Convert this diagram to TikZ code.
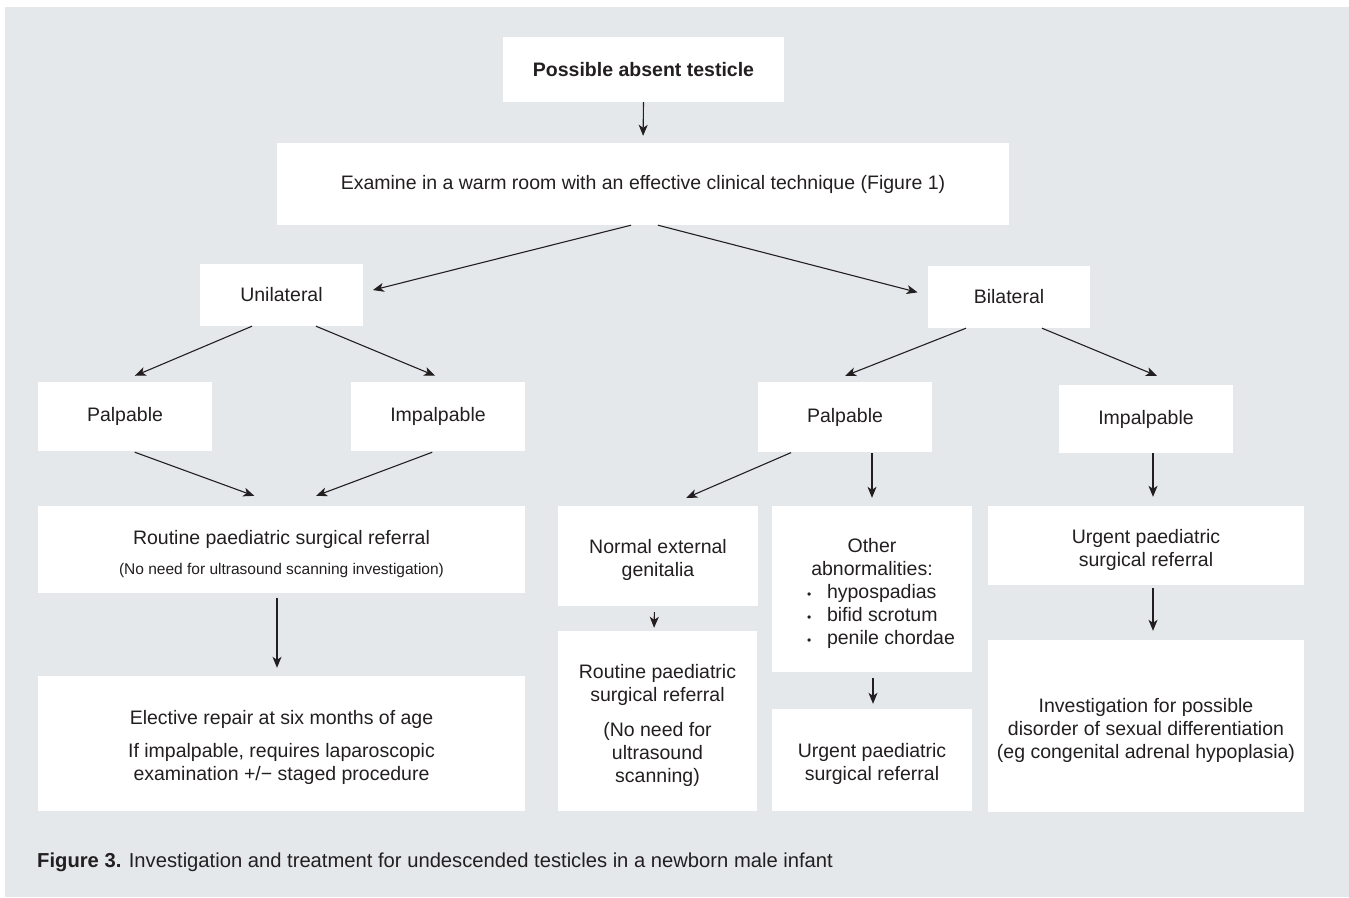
\documentclass[tikz,border=0pt]{standalone}
\usepackage{fontspec}
\setmainfont{Liberation Sans}
\usepackage{tikz}
\usetikzlibrary{arrows.meta}
\definecolor{panelgray}{HTML}{E5E8EB}
\definecolor{inkgray}{HTML}{231F20}
% taller first line, so that a block of several lines sits a little lower
\newcommand{\boxstrut}{\rule{0pt}{23pt}}

\begin{document}
\begin{tikzpicture}[
    x=1pt, y=-1pt,
    flow_box/.style={fill=white, inner sep=0pt, align=center, text=inkgray, font=\fontsize{19.5}{23}\selectfont},
    flow_arrow/.style={draw=inkgray, line width=1.1pt, -{Stealth[length=11pt, width=9pt, inset=3pt]}}
]
\useasboundingbox (0,0) rectangle (1349,897);

% grey panel behind the chart
\fill[panelgray] (5,7) rectangle (1349,897);

% Define node positions
\node[flow_box, minimum width=281pt, minimum height=65pt, font=\fontsize{19.5}{23}\selectfont\bfseries] (top) at (643.5,69.5) {Possible absent testicle};
\node[flow_box, minimum width=732pt, minimum height=82pt] (exam) at (643,184) {Examine in a warm room with an effective clinical technique (Figure 1)};
\node[flow_box, minimum width=163pt, minimum height=62pt] (unil) at (281.5,295) {Unilateral};
\node[flow_box, minimum width=162pt, minimum height=62pt] (bil) at (1009,297) {Bilateral};
\node[flow_box, minimum width=174pt, minimum height=69pt] (palpL) at (125,416.5) {Palpable};
\node[flow_box, minimum width=174pt, minimum height=69pt] (impL) at (438,416.5) {Impalpable};
\node[flow_box, minimum width=174pt, minimum height=70pt] (palpR) at (845,417) {Palpable};
\node[flow_box, minimum width=174pt, minimum height=68pt] (impR) at (1146,419) {Impalpable};
\node[flow_box, minimum width=487pt, minimum height=87pt] (routL) at (281.5,549.5)
    {\boxstrut Routine paediatric surgical referral\\[7pt]{\fontsize{15.5}{19}\selectfont(No need for ultrasound scanning investigation)}};
\node[flow_box, minimum width=200pt, minimum height=100pt] (normal) at (658,556) {\boxstrut Normal external\\genitalia};
\node[flow_box, minimum width=200pt, minimum height=166pt] (other) at (872,589)
    {\boxstrut Other\\abnormalities:\\
     \makebox[162pt][l]{\hspace{16pt}\makebox[20pt][l]{\fontsize{12}{12}\selectfont\textbullet}hypospadias}\\
     \makebox[162pt][l]{\hspace{16pt}\makebox[20pt][l]{\fontsize{12}{12}\selectfont\textbullet}bifid scrotum}\\
     \makebox[162pt][l]{\hspace{16pt}\makebox[20pt][l]{\fontsize{12}{12}\selectfont\textbullet}penile chordae}};
\node[flow_box, minimum width=316pt, minimum height=79pt] (urgentR) at (1146,545.5) {\boxstrut Urgent paediatric\\surgical referral};
\node[flow_box, minimum width=487pt, minimum height=135pt] (elective) at (281.5,743.5)
    {\boxstrut Elective repair at six months of age\\[10pt]If impalpable, requires laparoscopic\\examination +/− staged procedure};
\node[flow_box, minimum width=199pt, minimum height=180pt] (routMid) at (657.5,721)
    {\boxstrut Routine paediatric\\surgical referral\\[12pt](No need for\\ultrasound\\scanning)};
\node[flow_box, minimum width=200pt, minimum height=102pt] (urgentMid) at (872,760) {\boxstrut Urgent paediatric\\surgical referral};
\node[flow_box, minimum width=316pt, minimum height=172pt] (invest) at (1146,726)
    {\boxstrut Investigation for possible\\disorder of sexual differentiation\\(eg congenital adrenal hypoplasia)};

% caption
\node[anchor=base west, inner sep=0pt, text=inkgray, font=\fontsize{20.2}{24}\selectfont] (caption) at (37,867)
    {\textbf{Figure 3.} Investigation and treatment for undescended testicles in a newborn male infant};

% Connect the nodes
\path[every edge/.style=flow_arrow]
    (top.south) edge[shorten >=7pt] (exam.north)
    ([xshift=-12pt]exam.south) edge[shorten >=10pt] ([yshift=2.5pt]unil.east)
    ([xshift=15pt]exam.south) edge[shorten >=10.5pt] ([yshift=2pt]bil.west)
    ([xshift=-29.5pt]unil.south) edge[shorten >=15.5pt] ([xshift=-4.3pt]palpL.north)
    ([xshift=34.5pt]unil.south) edge[shorten >=15.8pt] ([xshift=11.6pt]impL.north)
    ([xshift=7pt]palpL.south) edge[shorten <=3pt, shorten >=29pt] (routL.north)
    ([xshift=-3pt]impL.south) edge[shorten <=3pt, shorten >=28.5pt] ([xshift=8pt]routL.north)
    ([xshift=-4.5pt]routL.south) edge[shorten <=5pt, shorten >=8pt] ([xshift=-4.5pt]elective.north)
    ([xshift=-43pt]bil.south) edge[shorten >=16.3pt] ([xshift=-15pt]palpR.north)
    ([xshift=33pt]bil.south) edge[shorten >=23.4pt] ([xshift=32.6pt]impR.north)
    ([xshift=-53pt]palpR.south) edge[shorten <=1pt, shorten >=20pt] ([xshift=10pt]normal.north)
    (palpR.south -| other.north) edge[shorten <=1pt, shorten >=8pt] (other.north)
    ([xshift=7pt]impR.south) edge[shorten >=9pt] ([xshift=7pt]urgentR.north)
    ([xshift=-3.5pt]normal.south) edge[shorten <=6pt, shorten >=3pt] ([xshift=-3.5pt]routMid.north)
    ([xshift=1pt]other.south) edge[shorten <=6pt, shorten >=5pt] ([xshift=1pt]urgentMid.north)
    ([xshift=7pt]urgentR.south) edge[shorten <=3pt, shorten >=9pt] ([xshift=7pt]invest.north);

\end{tikzpicture}
\end{document}
